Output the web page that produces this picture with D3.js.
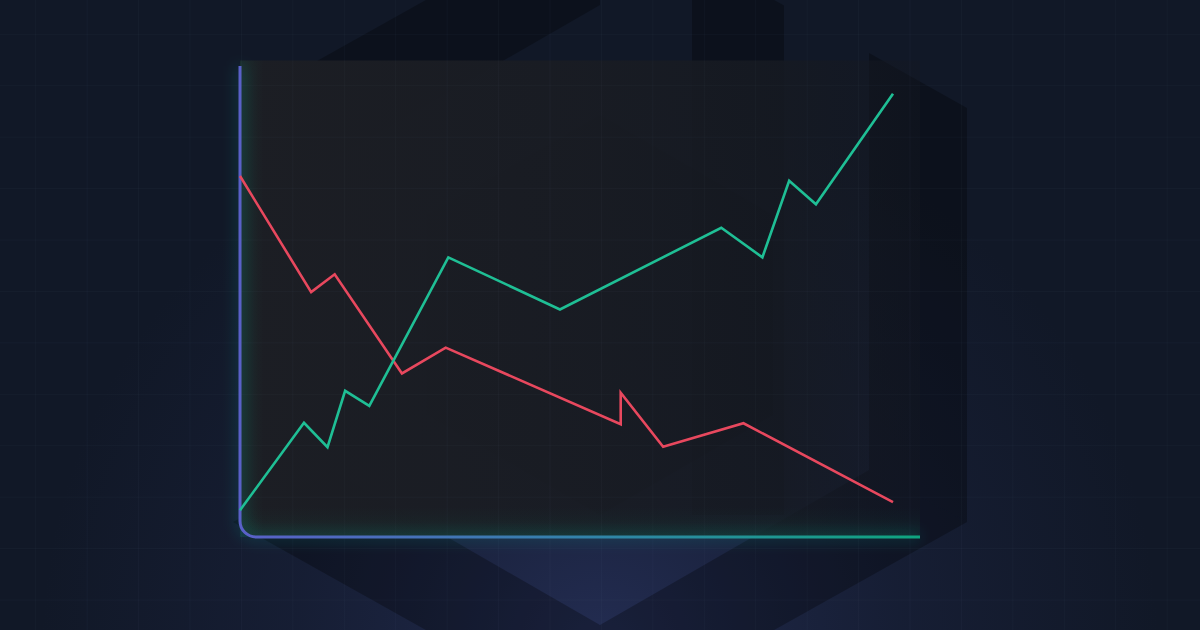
<!DOCTYPE html>
<html>
<head>
<meta charset="utf-8">
<script src="https://cdn.jsdelivr.net/npm/d3@7"></script>
<style>
html,body{margin:0;padding:0;background:#111827;}
svg{display:block;}
</style>
</head>
<body>
<script>
// ---- data ----
const redX   = [0, 10.9, 14.5, 24.8, 31.5, 58.3, 58.3, 64.8, 77.1, 100];
const redY   = [76.8, 52.1, 55.9, 34.8, 40.3, 24.0, 30.7, 19.2, 24.2, 7.4];
const greenX = [0, 9.8, 13.4, 16.1, 19.8, 31.9, 49.0, 73.7, 80.0, 84.1, 88.2, 100];
const greenY = [5.7, 24.3, 19.1, 31.1, 27.9, 59.5, 48.4, 65.8, 59.5, 75.8, 70.8, 94.3];
const xDomain = [0, 100];
const yDomain = [0, 100];

const W = 1200, H = 630;
const svg = d3.select("body").append("svg").attr("width", W).attr("height", H);
const defs = svg.append("defs");

const x = d3.scaleLinear().domain(xDomain).range([240, 893]);
const y = d3.scaleLinear().domain(yDomain).range([537, 67]);
const axisRight = 920, axisTop = 66, panelTop = 60.5, cornerR = 16;
const x0 = x.range()[0], yb = y.range()[0];

// background
svg.append("rect").attr("width", W).attr("height", H).attr("fill", "#111827");

const glow = defs.append("radialGradient").attr("id", "glow")
  .attr("gradientUnits", "userSpaceOnUse").attr("cx", 600).attr("cy", 650).attr("r", 560);
glow.append("stop").attr("offset", "0").attr("stop-color", "#36427e").attr("stop-opacity", 0.5);
glow.append("stop").attr("offset", "0.55").attr("stop-color", "#2a3466").attr("stop-opacity", 0.2);
glow.append("stop").attr("offset", "1").attr("stop-color", "#2a3466").attr("stop-opacity", 0);
svg.append("rect").attr("width", W).attr("height", H).attr("fill", "url(#glow)");

// decorative isometric shapes (dark faces of nested hexagons)
const s = 0.56;
const pieces = [
  // upper-left rim between outer and middle hexagon
  [[240,108-7*s],[600,108-367*s],[600,5],[331,160],[240,160]],
  // dark column on the upper right
  [[692,108-275*s],[784,108-183*s],[784,515],[692,515]],
  // right rim
  [[869,108-98*s],[967,108],[967,522],[869,470]],
  // lower rim (outer minus middle hexagon)
  [[233,522],[600,522+367*s],[967,522],[869,470],[600,625],[331,470]],
  // inner hexagon
  [[600,115],[773,215],[773,415],[600,515],[427,415],[427,215]]
];
svg.append("g").selectAll("polygon").data(pieces).join("polygon")
  .attr("points", d => d.map(p => p.join(",")).join(" "))
  .attr("fill", "#000").attr("fill-opacity", 0.28);

// panel
const pg = defs.append("linearGradient").attr("id", "panelGrad")
  .attr("gradientUnits", "userSpaceOnUse").attr("x1", x0).attr("y1", 0).attr("x2", axisRight).attr("y2", 0);
pg.append("stop").attr("offset", "0").attr("stop-color", "#1c1e24").attr("stop-opacity", 1);
pg.append("stop").attr("offset", "0.5").attr("stop-color", "#191c23").attr("stop-opacity", 0.95);
pg.append("stop").attr("offset", "0.8").attr("stop-color", "#161a22").attr("stop-opacity", 0.85);
pg.append("stop").attr("offset", "1").attr("stop-color", "#141821").attr("stop-opacity", 0.35);
const panelPath = `M${x0},${panelTop} H${axisRight} V${yb} H${x0+cornerR} A${cornerR},${cornerR} 0 0 1 ${x0},${yb-cornerR} Z`;
svg.append("path").attr("d", panelPath).attr("fill", "url(#panelGrad)");

// soft green tint inside panel near axes
const bg2 = defs.append("linearGradient").attr("id", "bottomTint").attr("x1", 0).attr("y1", 0).attr("x2", 0).attr("y2", 1);
bg2.append("stop").attr("offset", "0").attr("stop-color", "#10b981").attr("stop-opacity", 0);
bg2.append("stop").attr("offset", "1").attr("stop-color", "#10b981").attr("stop-opacity", 0.07);
svg.append("rect").attr("x", x0).attr("y", yb-30).attr("width", axisRight-x0).attr("height", 30).attr("fill", "url(#bottomTint)");
const lt = defs.append("linearGradient").attr("id", "leftTint").attr("x1", 0).attr("y1", 0).attr("x2", 1).attr("y2", 0);
lt.append("stop").attr("offset", "0").attr("stop-color", "#10b981").attr("stop-opacity", 0.08);
lt.append("stop").attr("offset", "1").attr("stop-color", "#10b981").attr("stop-opacity", 0);
svg.append("rect").attr("x", x0).attr("y", panelTop).attr("width", 24).attr("height", yb-panelTop).attr("fill", "url(#leftTint)");

// grid
const gridStep = 51.43;
const gx = d3.range(35.7, W, gridStep), gy = d3.range(34.3, H, gridStep);
const grid = svg.append("g").attr("stroke", "#94a3b8").attr("stroke-opacity", 0.045).attr("stroke-width", 1);
grid.selectAll("line.v").data(gx).join("line").attr("class","v")
  .attr("x1", d => d).attr("x2", d => d).attr("y1", 0).attr("y2", H);
grid.selectAll("line.h").data(gy).join("line").attr("class","h")
  .attr("y1", d => d).attr("y2", d => d).attr("x1", 0).attr("x2", W);

// axes (L shape with rounded corner, gradient stroke)
const ag = defs.append("linearGradient").attr("id", "axisGrad")
  .attr("gradientUnits", "userSpaceOnUse").attr("x1", x0).attr("y1", 0).attr("x2", axisRight).attr("y2", 0);
ag.append("stop").attr("offset", "0").attr("stop-color", "#5a60c8");
ag.append("stop").attr("offset", "0.5").attr("stop-color", "#3382aa");
ag.append("stop").attr("offset", "1").attr("stop-color", "#0fa57f");
const axisPath = `M${x0},${axisTop} V${yb-cornerR} A${cornerR},${cornerR} 0 0 0 ${x0+cornerR},${yb} H${axisRight}`;
const blur = defs.append("filter").attr("id", "blur").attr("x", "-20%").attr("y", "-20%").attr("width", "140%").attr("height", "140%");
blur.append("feGaussianBlur").attr("stdDeviation", 7);
svg.append("path").attr("d", axisPath).attr("fill", "none").attr("stroke", "#14b8a6")
  .attr("stroke-width", 8).attr("stroke-opacity", 0.2).attr("filter", "url(#blur)");
svg.append("path").attr("d", axisPath).attr("fill", "none").attr("stroke", "url(#axisGrad)")
  .attr("stroke-width", 3);

// series
const line = d3.line().x(d => x(d[0])).y(d => y(d[1]));
const redPts = redX.map((v, i) => [v, redY[i]]);
const greenPts = greenX.map((v, i) => [v, greenY[i]]);
svg.append("path").datum(redPts).attr("d", line).attr("fill", "none")
  .attr("stroke", "#e8485e").attr("stroke-width", 2.6).attr("stroke-linejoin", "miter").attr("stroke-miterlimit", 10);
svg.append("path").datum(greenPts).attr("d", line).attr("fill", "none")
  .attr("stroke", "#1fbf95").attr("stroke-width", 2.6).attr("stroke-linejoin", "miter").attr("stroke-miterlimit", 10);
</script>
</body>
</html>
